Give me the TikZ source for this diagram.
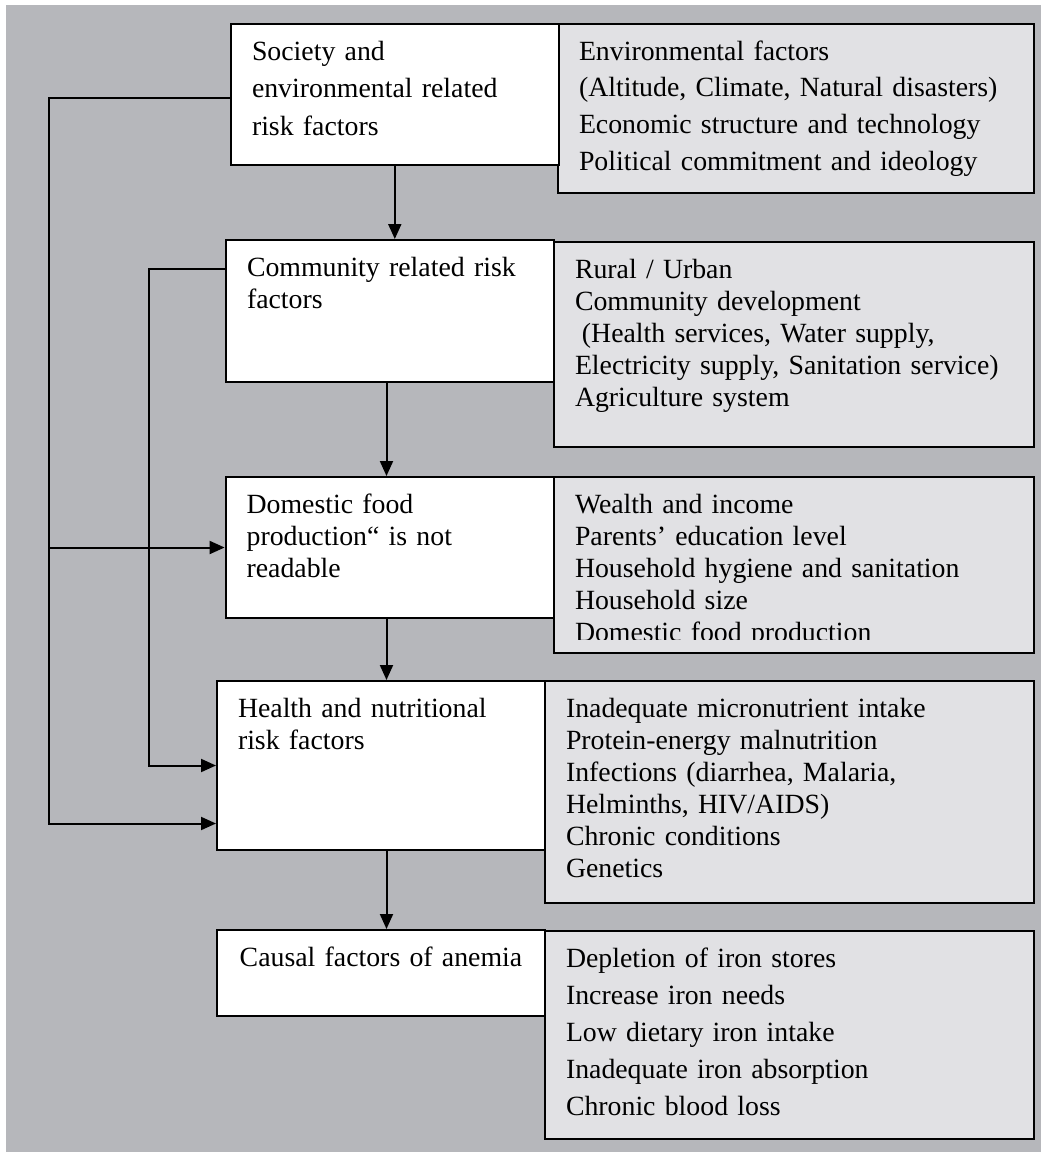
\documentclass[tikz,border=0pt]{standalone}
\usepackage{fontspec}
\setmainfont{Liberation Serif}
\usetikzlibrary{arrows.meta}

\definecolor{framegray}{RGB}{182,183,187}
\definecolor{listgray}{RGB}{225,225,228}

\tikzset{
    riskbox/.style={draw,fill=white,line width=1pt,anchor=north west,
        inner xsep=10.5pt,inner ysep=9pt,text height=9pt,align=left,
        font=\fontsize{13.9}{16}\selectfont},
    listbox/.style={riskbox,fill=listgray},
    flow/.style={line width=1pt,-{Triangle[length=7.5pt,width=6.5pt]}}
}

\begin{document}
\begin{tikzpicture}[x=0.5pt,y=-0.5pt,line cap=butt,line join=miter]
        \useasboundingbox (0,0) rectangle (1041,1152);
        \fill[framegray] (6,5) rectangle (1041,1152);

        \node[listbox,text width=217pt,text depth=57.5pt,
            font=\fontsize{13.9}{18.4}\selectfont] (envlist) at (557,23)
            {Environmental factors\\
             (Altitude, Climate, Natural disasters)\\
             Economic structure and technology\\
             Political commitment and ideology};
        \node[listbox,text width=219pt,text depth=75.5pt] (commlist) at (553,241)
            {Rural / Urban\\
             Community development\\
             \hspace*{0.25em}(Health services, Water supply,\\
             Electricity supply, Sanitation service)\\
             Agriculture system};
        \node[listbox,text width=219pt,text depth=61pt] (homebox) at (553,476) {};
        \begin{scope}
            \clip (553,476) rectangle (1033,639);
            \node[listbox,draw=none,fill=none,text width=219pt,text depth=61pt]
                (homelist) at (553,476)
                {Wealth and income\\
                 Parents’ education level\\
                 Household hygiene and sanitation\\
                 Household size\\
                 Domestic food production};
        \end{scope}
        \node[listbox,text width=223.5pt,text depth=84pt] (healthlist) at (544,680)
            {Inadequate micronutrient intake\\
             Protein-energy malnutrition\\
             Infections (diarrhea, Malaria,\\
             Helminths, HIV/AIDS)\\
             Chronic conditions\\
             Genetics};
        \node[listbox,text width=223.5pt,text depth=77pt,
            font=\fontsize{13.9}{18.5}\selectfont] (causelist) at (544,930)
            {Depletion of iron stores\\
             Increase iron needs\\
             Low dietary iron intake\\
             Inadequate iron absorption\\
             Chronic blood loss};

        \node[riskbox,text width=142.8pt,text depth=43.5pt,
            font=\fontsize{13.9}{18.75}\selectfont] (soc) at (230,23)
            {Society and\\ environmental related\\ risk factors};
        \node[riskbox,text width=143pt,text depth=44pt] (comm) at (225,239)
            {Community related risk\\ factors};
        \node[riskbox,text width=143.2pt,text depth=43.5pt] (food) at (224.6,476)
            {Domestic food\\ production“ is not\\ readable};
        \node[riskbox,text width=143pt,text depth=57.5pt] (health) at (216,680)
            {Health and nutritional\\ risk factors};
        \node[riskbox,text width=143pt,text depth=16pt,align=center] (cause) at (216,929)
            {Causal factors of anemia};

        \coordinate (spine) at (386.5,0);
        \coordinate (outerbus) at (48.6,0);
        \coordinate (innerbus) at (149.3,0);
        \coordinate (soctap) at ([yshift=-1.6pt]soc.west);
        \coordinate (commtap) at ([yshift=21pt]comm.west);
        \coordinate (healthlow) at ([yshift=-29pt]health.west);

        \draw[flow] (soc.south) -- (soc.south |- comm.north);
        \draw[flow] (spine |- comm.south) -- (spine |- food.north);
        \draw[flow] (spine |- food.south) -- (spine |- health.north);
        \draw[flow] (spine |- health.south) -- (spine |- cause.north);

        \draw[flow] (soctap) -- (outerbus |- soctap) -- (outerbus |- food.west) -- (food.west);
        \draw[flow] (outerbus |- food.west) -- (outerbus |- healthlow) -- (healthlow);
        \draw[flow] (commtap) -- (innerbus |- commtap) -- (innerbus |- health.west) -- (health.west);
    \end{tikzpicture}
\end{document}
